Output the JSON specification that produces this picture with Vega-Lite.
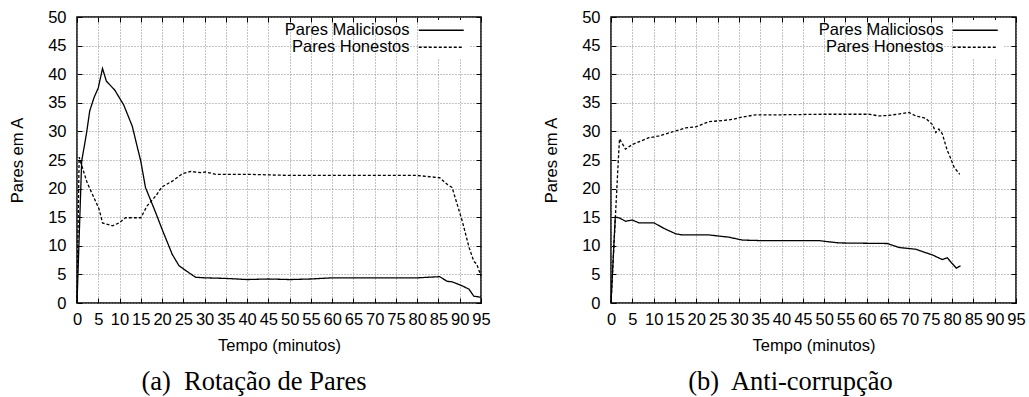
{
  "$schema": "https://vega.github.io/schema/vega-lite/v6.json",
  "padding": {"left": 8, "top": 8, "right": 5, "bottom": 0},
  "background": "white",
  "datasets": {
    "rot": [
      {"t": 0, "v": 0, "s": "Pares Maliciosos"},
      {"t": 1.1, "v": 24.8, "s": "Pares Maliciosos"},
      {"t": 2.2, "v": 29.5, "s": "Pares Maliciosos"},
      {"t": 3.0, "v": 33.6, "s": "Pares Maliciosos"},
      {"t": 4.0, "v": 35.9, "s": "Pares Maliciosos"},
      {"t": 5.0, "v": 37.6, "s": "Pares Maliciosos"},
      {"t": 6.0, "v": 41.0, "s": "Pares Maliciosos"},
      {"t": 6.9, "v": 38.8, "s": "Pares Maliciosos"},
      {"t": 8.9, "v": 37.2, "s": "Pares Maliciosos"},
      {"t": 11.0, "v": 34.6, "s": "Pares Maliciosos"},
      {"t": 13.0, "v": 30.9, "s": "Pares Maliciosos"},
      {"t": 14.2, "v": 27.2, "s": "Pares Maliciosos"},
      {"t": 15.0, "v": 24.8, "s": "Pares Maliciosos"},
      {"t": 16.1, "v": 20.2, "s": "Pares Maliciosos"},
      {"t": 18.5, "v": 15.8, "s": "Pares Maliciosos"},
      {"t": 20.0, "v": 12.9, "s": "Pares Maliciosos"},
      {"t": 22.4, "v": 8.5, "s": "Pares Maliciosos"},
      {"t": 24.0, "v": 6.5, "s": "Pares Maliciosos"},
      {"t": 26.3, "v": 5.3, "s": "Pares Maliciosos"},
      {"t": 27.9, "v": 4.5, "s": "Pares Maliciosos"},
      {"t": 30.0, "v": 4.4, "s": "Pares Maliciosos"},
      {"t": 35.0, "v": 4.3, "s": "Pares Maliciosos"},
      {"t": 40.0, "v": 4.1, "s": "Pares Maliciosos"},
      {"t": 45.0, "v": 4.2, "s": "Pares Maliciosos"},
      {"t": 50.0, "v": 4.1, "s": "Pares Maliciosos"},
      {"t": 55.0, "v": 4.2, "s": "Pares Maliciosos"},
      {"t": 60.0, "v": 4.4, "s": "Pares Maliciosos"},
      {"t": 70.0, "v": 4.4, "s": "Pares Maliciosos"},
      {"t": 80.0, "v": 4.4, "s": "Pares Maliciosos"},
      {"t": 85.3, "v": 4.6, "s": "Pares Maliciosos"},
      {"t": 87.0, "v": 3.8, "s": "Pares Maliciosos"},
      {"t": 88.2, "v": 3.7, "s": "Pares Maliciosos"},
      {"t": 90.6, "v": 3.0, "s": "Pares Maliciosos"},
      {"t": 92.2, "v": 2.4, "s": "Pares Maliciosos"},
      {"t": 93.3, "v": 1.2, "s": "Pares Maliciosos"},
      {"t": 95.0, "v": 1.0, "s": "Pares Maliciosos"},
      {"t": 0, "v": 0, "s": "Pares Honestos"},
      {"t": 0.5, "v": 25.5, "s": "Pares Honestos"},
      {"t": 2.4, "v": 21.0, "s": "Pares Honestos"},
      {"t": 4.0, "v": 18.4, "s": "Pares Honestos"},
      {"t": 5.2, "v": 16.4, "s": "Pares Honestos"},
      {"t": 6.0, "v": 14.0, "s": "Pares Honestos"},
      {"t": 8.3, "v": 13.5, "s": "Pares Honestos"},
      {"t": 9.9, "v": 14.0, "s": "Pares Honestos"},
      {"t": 11.4, "v": 14.9, "s": "Pares Honestos"},
      {"t": 15.0, "v": 14.9, "s": "Pares Honestos"},
      {"t": 16.5, "v": 17.0, "s": "Pares Honestos"},
      {"t": 18.5, "v": 18.7, "s": "Pares Honestos"},
      {"t": 20.0, "v": 20.3, "s": "Pares Honestos"},
      {"t": 22.4, "v": 21.3, "s": "Pares Honestos"},
      {"t": 24.8, "v": 22.6, "s": "Pares Honestos"},
      {"t": 26.7, "v": 23.0, "s": "Pares Honestos"},
      {"t": 29.0, "v": 22.8, "s": "Pares Honestos"},
      {"t": 30.3, "v": 22.9, "s": "Pares Honestos"},
      {"t": 32.6, "v": 22.5, "s": "Pares Honestos"},
      {"t": 40.0, "v": 22.5, "s": "Pares Honestos"},
      {"t": 50.0, "v": 22.3, "s": "Pares Honestos"},
      {"t": 60.0, "v": 22.3, "s": "Pares Honestos"},
      {"t": 70.0, "v": 22.3, "s": "Pares Honestos"},
      {"t": 80.0, "v": 22.3, "s": "Pares Honestos"},
      {"t": 85.3, "v": 21.9, "s": "Pares Honestos"},
      {"t": 87.1, "v": 20.7, "s": "Pares Honestos"},
      {"t": 88.2, "v": 20.2, "s": "Pares Honestos"},
      {"t": 90.6, "v": 14.3, "s": "Pares Honestos"},
      {"t": 92.2, "v": 9.7, "s": "Pares Honestos"},
      {"t": 93.3, "v": 7.3, "s": "Pares Honestos"},
      {"t": 94.0, "v": 6.8, "s": "Pares Honestos"},
      {"t": 95.0, "v": 4.7, "s": "Pares Honestos"}
    ],
    "anti": [
      {"t": 0, "v": 0, "s": "Pares Maliciosos"},
      {"t": 1.0, "v": 15.0, "s": "Pares Maliciosos"},
      {"t": 1.9, "v": 14.9, "s": "Pares Maliciosos"},
      {"t": 3.4, "v": 14.3, "s": "Pares Maliciosos"},
      {"t": 5.0, "v": 14.5, "s": "Pares Maliciosos"},
      {"t": 6.6, "v": 14.0, "s": "Pares Maliciosos"},
      {"t": 10.1, "v": 14.0, "s": "Pares Maliciosos"},
      {"t": 12.8, "v": 12.9, "s": "Pares Maliciosos"},
      {"t": 15.2, "v": 12.1, "s": "Pares Maliciosos"},
      {"t": 16.7, "v": 11.9, "s": "Pares Maliciosos"},
      {"t": 23.0, "v": 11.9, "s": "Pares Maliciosos"},
      {"t": 27.7, "v": 11.5, "s": "Pares Maliciosos"},
      {"t": 30.8, "v": 11.0, "s": "Pares Maliciosos"},
      {"t": 35.5, "v": 10.9, "s": "Pares Maliciosos"},
      {"t": 48.8, "v": 10.9, "s": "Pares Maliciosos"},
      {"t": 51.1, "v": 10.7, "s": "Pares Maliciosos"},
      {"t": 53.5, "v": 10.5, "s": "Pares Maliciosos"},
      {"t": 64.8, "v": 10.4, "s": "Pares Maliciosos"},
      {"t": 66.4, "v": 10.0, "s": "Pares Maliciosos"},
      {"t": 67.6, "v": 9.7, "s": "Pares Maliciosos"},
      {"t": 71.5, "v": 9.4, "s": "Pares Maliciosos"},
      {"t": 73.8, "v": 8.8, "s": "Pares Maliciosos"},
      {"t": 75.4, "v": 8.4, "s": "Pares Maliciosos"},
      {"t": 77.7, "v": 7.6, "s": "Pares Maliciosos"},
      {"t": 78.9, "v": 7.9, "s": "Pares Maliciosos"},
      {"t": 79.9, "v": 7.0, "s": "Pares Maliciosos"},
      {"t": 81.0, "v": 6.1, "s": "Pares Maliciosos"},
      {"t": 82.0, "v": 6.5, "s": "Pares Maliciosos"},
      {"t": 0, "v": 0, "s": "Pares Honestos"},
      {"t": 1.7, "v": 24.8, "s": "Pares Honestos"},
      {"t": 2.0, "v": 28.7, "s": "Pares Honestos"},
      {"t": 3.4, "v": 26.9, "s": "Pares Honestos"},
      {"t": 5.0, "v": 27.7, "s": "Pares Honestos"},
      {"t": 8.9, "v": 28.9, "s": "Pares Honestos"},
      {"t": 11.3, "v": 29.2, "s": "Pares Honestos"},
      {"t": 15.2, "v": 30.1, "s": "Pares Honestos"},
      {"t": 17.5, "v": 30.6, "s": "Pares Honestos"},
      {"t": 19.9, "v": 30.8, "s": "Pares Honestos"},
      {"t": 23.0, "v": 31.7, "s": "Pares Honestos"},
      {"t": 26.1, "v": 31.9, "s": "Pares Honestos"},
      {"t": 28.5, "v": 32.1, "s": "Pares Honestos"},
      {"t": 30.8, "v": 32.5, "s": "Pares Honestos"},
      {"t": 33.9, "v": 32.9, "s": "Pares Honestos"},
      {"t": 39.4, "v": 32.9, "s": "Pares Honestos"},
      {"t": 50.0, "v": 33.0, "s": "Pares Honestos"},
      {"t": 60.5, "v": 33.0, "s": "Pares Honestos"},
      {"t": 62.9, "v": 32.7, "s": "Pares Honestos"},
      {"t": 65.2, "v": 32.8, "s": "Pares Honestos"},
      {"t": 69.9, "v": 33.3, "s": "Pares Honestos"},
      {"t": 71.5, "v": 32.7, "s": "Pares Honestos"},
      {"t": 73.8, "v": 32.3, "s": "Pares Honestos"},
      {"t": 75.4, "v": 31.2, "s": "Pares Honestos"},
      {"t": 76.2, "v": 29.8, "s": "Pares Honestos"},
      {"t": 76.9, "v": 30.4, "s": "Pares Honestos"},
      {"t": 77.7, "v": 29.6, "s": "Pares Honestos"},
      {"t": 78.9, "v": 26.6, "s": "Pares Honestos"},
      {"t": 79.3, "v": 26.0, "s": "Pares Honestos"},
      {"t": 80.5, "v": 23.7, "s": "Pares Honestos"},
      {"t": 81.8, "v": 22.5, "s": "Pares Honestos"}
    ]
  },
  "hconcat": [
    {
      "width": 404,
      "height": 286,
      "data": {"name": "rot"},
      "title": {"text": "(a)\u00a0 Rotação de Pares", "orient": "bottom", "anchor": "middle", "dx": -25, "font": "Liberation Serif", "fontSize": 26.5, "fontWeight": "normal", "color": "black", "offset": 15},
      "layer": [
        {
          "mark": {"type": "line", "color": "black", "strokeWidth": 1.3},
          "encoding": {
            "x": {"field": "t", "type": "quantitative", "scale": {"domain": [0, 95], "nice": false},
                  "axis": {"orient": "bottom", "values": [0,5,10,15,20,25,30,35,40,45,50,55,60,65,70,75,80,85,90,95], "title": "Tempo (minutos)", "titleFontWeight": "normal", "grid": true, "tickSize": -5, "labelPadding": 13, "titlePadding": 10}},
            "y": {"field": "v", "type": "quantitative", "scale": {"domain": [0, 50], "nice": false},
                  "axis": {"orient": "left", "values": [0,5,10,15,20,25,30,35,40,45,50], "title": "Pares em A", "titleFontWeight": "normal", "grid": true, "tickSize": -5, "labelPadding": 16, "titlePadding": 22}},
            "strokeDash": {"field": "s", "type": "nominal", "sort": ["Pares Maliciosos", "Pares Honestos"],
                  "scale": {"domain": ["Pares Maliciosos", "Pares Honestos"], "range": [[1, 0], [3, 2]]},
                  "legend": {"title": null}}
          }
        },
        {
          "mark": {"type": "line", "strokeOpacity": 0},
          "encoding": {
            "x": {"field": "t", "type": "quantitative", "axis": {"orient": "top", "values": [0,5,10,15,20,25,30,35,40,45,50,55,60,65,70,75,80,85,90,95], "labels": false, "title": null, "grid": false, "tickSize": -5}},
            "y": {"field": "v", "type": "quantitative", "axis": {"orient": "right", "values": [0,5,10,15,20,25,30,35,40,45,50], "labels": false, "title": null, "grid": false, "tickSize": -5}},
            "detail": {"field": "s"}
          }
        }
      ],
      "resolve": {"axis": {"x": "independent", "y": "independent"}}
    },
    {
      "width": 405,
      "height": 286,
      "data": {"name": "anti"},
      "title": {"text": "(b)\u00a0 Anti-corrupção", "orient": "bottom", "anchor": "middle", "dx": -23, "font": "Liberation Serif", "fontSize": 26.5, "fontWeight": "normal", "color": "black", "offset": 15},
      "layer": [
        {
          "mark": {"type": "line", "color": "black", "strokeWidth": 1.3},
          "encoding": {
            "x": {"field": "t", "type": "quantitative", "scale": {"domain": [0, 95], "nice": false},
                  "axis": {"orient": "bottom", "values": [0,5,10,15,20,25,30,35,40,45,50,55,60,65,70,75,80,85,90,95], "title": "Tempo (minutos)", "titleFontWeight": "normal", "grid": true, "tickSize": -5, "labelPadding": 13, "titlePadding": 10}},
            "y": {"field": "v", "type": "quantitative", "scale": {"domain": [0, 50], "nice": false},
                  "axis": {"orient": "left", "values": [0,5,10,15,20,25,30,35,40,45,50], "title": "Pares em A", "titleFontWeight": "normal", "grid": true, "tickSize": -5, "labelPadding": 16, "titlePadding": 22}},
            "strokeDash": {"field": "s", "type": "nominal", "sort": ["Pares Maliciosos", "Pares Honestos"],
                  "scale": {"domain": ["Pares Maliciosos", "Pares Honestos"], "range": [[1, 0], [3, 2]]},
                  "legend": {"title": null}}
          }
        },
        {
          "mark": {"type": "line", "strokeOpacity": 0},
          "encoding": {
            "x": {"field": "t", "type": "quantitative", "axis": {"orient": "top", "values": [0,5,10,15,20,25,30,35,40,45,50,55,60,65,70,75,80,85,90,95], "labels": false, "title": null, "grid": false, "tickSize": -5}},
            "y": {"field": "v", "type": "quantitative", "axis": {"orient": "right", "values": [0,5,10,15,20,25,30,35,40,45,50], "labels": false, "title": null, "grid": false, "tickSize": -5}},
            "detail": {"field": "s"}
          }
        }
      ],
      "resolve": {"axis": {"x": "independent", "y": "independent"}}
    }
  ],
  "spacing": 130,
  "bounds": "flush",
  "resolve": {"legend": {"strokeDash": "independent"}, "scale": {"strokeDash": "independent"}},
  "config": {
    "font": "Liberation Sans",
    "view": {"stroke": "black", "strokeWidth": 1.5},
    "axis": {
      "domain": false,
      "labelFont": "Liberation Sans", "labelFontSize": 16.5, "labelColor": "black",
      "titleFont": "Liberation Sans", "titleFontSize": 16.5, "titleFontWeight": "normal", "titleColor": "black",
      "tickColor": "black", "tickWidth": 1,
      "gridColor": "#888888", "gridDash": [1, 2], "gridWidth": 1,
      "labelFlush": false, "labelOverlap": false
    },
    "legend": {
      "orient": "none", "legendX": 354, "legendY": 3,
      "labelFont": "Liberation Sans", "labelFontSize": 16.5, "labelColor": "black",
      "labelAlign": "right", "labelOffset": -40,
      "symbolType": "M-4,0H4", "symbolSize": 126.5, "symbolStrokeWidth": 1.3, "symbolStrokeColor": "black", "symbolFillColor": "transparent",
      "rowPadding": -10, "fillColor": "white", "padding": 2
    }
  }
}
